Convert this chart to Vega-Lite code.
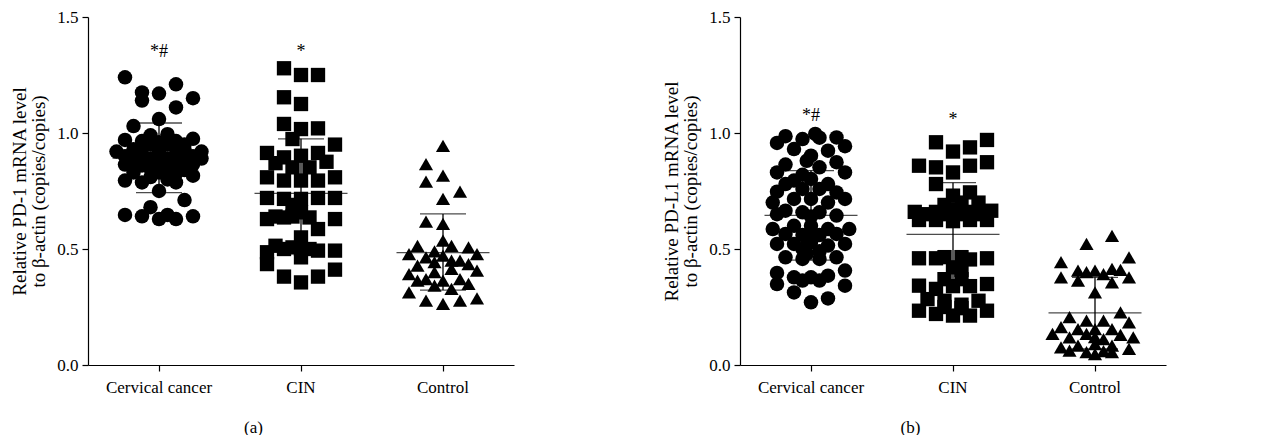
{
"$schema":"https://vega.github.io/schema/vega-lite/v6.json",
"padding":{"left":10,"top":8,"right":5,"bottom":0},
"background":"white",
"config":{"view":{"stroke":null},"axis":{"domainColor":"black","tickColor":"black","labelColor":"black","titleColor":"black","labelFont":"Liberation Serif","titleFont":"Liberation Serif","labelFontSize":17,"titleFontSize":19,"titleFontWeight":"normal","titleLineHeight":19,"grid":false,"tickSize":6,"domainWidth":1.2,"tickWidth":1.2}},
"datasets":{
"pts":[
{"p":"a","g":"Cervical cancer","c":-4,"v":1.24},{"p":"a","g":"Cervical cancer","c":2,"v":1.21},{"p":"a","g":"Cervical cancer","c":-2,"v":1.175},{"p":"a","g":"Cervical cancer","c":-2,"v":1.14},{"p":"a","g":"Cervical cancer","c":0,"v":1.17},{"p":"a","g":"Cervical cancer","c":4,"v":1.15},{"p":"a","g":"Cervical cancer","c":2,"v":1.11},{"p":"a","g":"Cervical cancer","c":0,"v":1.06},{"p":"a","g":"Cervical cancer","c":-3,"v":1.03},
{"p":"a","g":"Cervical cancer","c":-4,"v":0.97},{"p":"a","g":"Cervical cancer","c":-1,"v":0.99},{"p":"a","g":"Cervical cancer","c":1,"v":0.995},{"p":"a","g":"Cervical cancer","c":-2,"v":0.965},{"p":"a","g":"Cervical cancer","c":2,"v":0.965},{"p":"a","g":"Cervical cancer","c":4,"v":0.975},{"p":"a","g":"Cervical cancer","c":3,"v":0.95},{"p":"a","g":"Cervical cancer","c":-5,"v":0.92},{"p":"a","g":"Cervical cancer","c":5,"v":0.92},
{"p":"a","g":"Cervical cancer","c":-3,"v":0.93},{"p":"a","g":"Cervical cancer","c":-1,"v":0.95},{"p":"a","g":"Cervical cancer","c":0,"v":0.96},{"p":"a","g":"Cervical cancer","c":1,"v":0.95},{"p":"a","g":"Cervical cancer","c":3,"v":0.93},
{"p":"a","g":"Cervical cancer","c":-4,"v":0.9},{"p":"a","g":"Cervical cancer","c":-2,"v":0.91},{"p":"a","g":"Cervical cancer","c":0,"v":0.92},{"p":"a","g":"Cervical cancer","c":2,"v":0.91},{"p":"a","g":"Cervical cancer","c":4,"v":0.9},
{"p":"a","g":"Cervical cancer","c":-3,"v":0.88},{"p":"a","g":"Cervical cancer","c":-1,"v":0.89},{"p":"a","g":"Cervical cancer","c":1,"v":0.89},{"p":"a","g":"Cervical cancer","c":3,"v":0.88},{"p":"a","g":"Cervical cancer","c":5,"v":0.89},
{"p":"a","g":"Cervical cancer","c":-4,"v":0.864},{"p":"a","g":"Cervical cancer","c":-2,"v":0.86},{"p":"a","g":"Cervical cancer","c":0,"v":0.87},{"p":"a","g":"Cervical cancer","c":2,"v":0.86},{"p":"a","g":"Cervical cancer","c":4,"v":0.865},
{"p":"a","g":"Cervical cancer","c":-1,"v":0.845},{"p":"a","g":"Cervical cancer","c":1,"v":0.845},{"p":"a","g":"Cervical cancer","c":3,"v":0.84},
{"p":"a","g":"Cervical cancer","c":-3,"v":0.83},{"p":"a","g":"Cervical cancer","c":0,"v":0.83},{"p":"a","g":"Cervical cancer","c":2,"v":0.825},
{"p":"a","g":"Cervical cancer","c":-4,"v":0.795},{"p":"a","g":"Cervical cancer","c":-2,"v":0.787},{"p":"a","g":"Cervical cancer","c":-1,"v":0.81},{"p":"a","g":"Cervical cancer","c":1,"v":0.8},{"p":"a","g":"Cervical cancer","c":2,"v":0.787},{"p":"a","g":"Cervical cancer","c":4,"v":0.816},
{"p":"a","g":"Cervical cancer","c":0,"v":0.75},{"p":"a","g":"Cervical cancer","c":3,"v":0.711},{"p":"a","g":"Cervical cancer","c":-1,"v":0.68},
{"p":"a","g":"Cervical cancer","c":-4,"v":0.647},{"p":"a","g":"Cervical cancer","c":-2,"v":0.641},{"p":"a","g":"Cervical cancer","c":0,"v":0.629},{"p":"a","g":"Cervical cancer","c":1,"v":0.647},{"p":"a","g":"Cervical cancer","c":2,"v":0.629},{"p":"a","g":"Cervical cancer","c":4,"v":0.641},

{"p":"a","g":"CIN","c":-2,"v":1.279},{"p":"a","g":"CIN","c":0,"v":1.25},{"p":"a","g":"CIN","c":2,"v":1.25},{"p":"a","g":"CIN","c":-2,"v":1.154},{"p":"a","g":"CIN","c":0,"v":1.125},{"p":"a","g":"CIN","c":-2,"v":1.039},{"p":"a","g":"CIN","c":0,"v":1.017},{"p":"a","g":"CIN","c":2,"v":1.02},{"p":"a","g":"CIN","c":-1,"v":0.974},{"p":"a","g":"CIN","c":4,"v":0.95},
{"p":"a","g":"CIN","c":-4,"v":0.914},{"p":"a","g":"CIN","c":-2,"v":0.895},{"p":"a","g":"CIN","c":0,"v":0.902},{"p":"a","g":"CIN","c":2,"v":0.914},{"p":"a","g":"CIN","c":3,"v":0.876},{"p":"a","g":"CIN","c":-3,"v":0.87},{"p":"a","g":"CIN","c":-1,"v":0.852},{"p":"a","g":"CIN","c":1,"v":0.852},
{"p":"a","g":"CIN","c":-4,"v":0.809},{"p":"a","g":"CIN","c":-2,"v":0.795},{"p":"a","g":"CIN","c":0,"v":0.795},{"p":"a","g":"CIN","c":2,"v":0.795},{"p":"a","g":"CIN","c":4,"v":0.809},
{"p":"a","g":"CIN","c":-4,"v":0.72},{"p":"a","g":"CIN","c":-2,"v":0.716},{"p":"a","g":"CIN","c":-1,"v":0.69},{"p":"a","g":"CIN","c":0,"v":0.716},{"p":"a","g":"CIN","c":2,"v":0.72},{"p":"a","g":"CIN","c":4,"v":0.72},
{"p":"a","g":"CIN","c":-4,"v":0.629},{"p":"a","g":"CIN","c":-3,"v":0.64},{"p":"a","g":"CIN","c":-2,"v":0.636},{"p":"a","g":"CIN","c":-1,"v":0.64},{"p":"a","g":"CIN","c":0,"v":0.658},{"p":"a","g":"CIN","c":1,"v":0.636},{"p":"a","g":"CIN","c":4,"v":0.629},
{"p":"a","g":"CIN","c":2,"v":0.586},{"p":"a","g":"CIN","c":0,"v":0.55},{"p":"a","g":"CIN","c":-3,"v":0.514},{"p":"a","g":"CIN","c":-2,"v":0.5},{"p":"a","g":"CIN","c":-1,"v":0.507},{"p":"a","g":"CIN","c":0,"v":0.5},{"p":"a","g":"CIN","c":1,"v":0.5},{"p":"a","g":"CIN","c":2,"v":0.493},{"p":"a","g":"CIN","c":4,"v":0.493},{"p":"a","g":"CIN","c":-4,"v":0.486},{"p":"a","g":"CIN","c":0,"v":0.464},{"p":"a","g":"CIN","c":-4,"v":0.435},{"p":"a","g":"CIN","c":4,"v":0.411},{"p":"a","g":"CIN","c":-2,"v":0.381},{"p":"a","g":"CIN","c":0,"v":0.356},{"p":"a","g":"CIN","c":2,"v":0.381},

{"p":"a","g":"Control","c":0,"v":0.945},{"p":"a","g":"Control","c":-2,"v":0.866},{"p":"a","g":"Control","c":0,"v":0.816},{"p":"a","g":"Control","c":-2,"v":0.79},{"p":"a","g":"Control","c":2,"v":0.747},{"p":"a","g":"Control","c":0,"v":0.716},{"p":"a","g":"Control","c":-2,"v":0.618},{"p":"a","g":"Control","c":0,"v":0.608},
{"p":"a","g":"Control","c":-3,"v":0.514},{"p":"a","g":"Control","c":-4,"v":0.478},{"p":"a","g":"Control","c":0,"v":0.536},{"p":"a","g":"Control","c":1,"v":0.514},{"p":"a","g":"Control","c":3,"v":0.507},{"p":"a","g":"Control","c":4,"v":0.478},{"p":"a","g":"Control","c":-1,"v":0.49},
{"p":"a","g":"Control","c":-3,"v":0.428},{"p":"a","g":"Control","c":-2,"v":0.464},{"p":"a","g":"Control","c":-1,"v":0.443},{"p":"a","g":"Control","c":0,"v":0.471},{"p":"a","g":"Control","c":1,"v":0.45},{"p":"a","g":"Control","c":2,"v":0.45},{"p":"a","g":"Control","c":3,"v":0.435},
{"p":"a","g":"Control","c":-4,"v":0.392},{"p":"a","g":"Control","c":-2,"v":0.37},{"p":"a","g":"Control","c":-1,"v":0.4},{"p":"a","g":"Control","c":1,"v":0.414},{"p":"a","g":"Control","c":4,"v":0.407},{"p":"a","g":"Control","c":-3,"v":0.364},{"p":"a","g":"Control","c":0,"v":0.364},{"p":"a","g":"Control","c":2,"v":0.37},{"p":"a","g":"Control","c":3,"v":0.35},{"p":"a","g":"Control","c":-1,"v":0.342},{"p":"a","g":"Control","c":1,"v":0.328},
{"p":"a","g":"Control","c":-4,"v":0.313},{"p":"a","g":"Control","c":-2,"v":0.277},{"p":"a","g":"Control","c":0,"v":0.263},{"p":"a","g":"Control","c":2,"v":0.277},{"p":"a","g":"Control","c":4,"v":0.287},

{"p":"b","g":"Cervical cancer","c":-4,"v":0.957},{"p":"b","g":"Cervical cancer","c":-3,"v":0.986},{"p":"b","g":"Cervical cancer","c":-1,"v":0.974},{"p":"b","g":"Cervical cancer","c":0.5,"v":0.996},{"p":"b","g":"Cervical cancer","c":1,"v":0.98},{"p":"b","g":"Cervical cancer","c":3,"v":0.981},{"p":"b","g":"Cervical cancer","c":4,"v":0.943},{"p":"b","g":"Cervical cancer","c":-2,"v":0.931},{"p":"b","g":"Cervical cancer","c":2,"v":0.924},{"p":"b","g":"Cervical cancer","c":0,"v":0.902},{"p":"b","g":"Cervical cancer","c":-0.5,"v":0.88},
{"p":"b","g":"Cervical cancer","c":-3,"v":0.864},{"p":"b","g":"Cervical cancer","c":-4,"v":0.83},{"p":"b","g":"Cervical cancer","c":1,"v":0.852},{"p":"b","g":"Cervical cancer","c":3,"v":0.874},{"p":"b","g":"Cervical cancer","c":4,"v":0.83},{"p":"b","g":"Cervical cancer","c":-1,"v":0.82},
{"p":"b","g":"Cervical cancer","c":-2,"v":0.795},{"p":"b","g":"Cervical cancer","c":-3,"v":0.78},{"p":"b","g":"Cervical cancer","c":0,"v":0.802},{"p":"b","g":"Cervical cancer","c":-1,"v":0.759},{"p":"b","g":"Cervical cancer","c":1,"v":0.759},{"p":"b","g":"Cervical cancer","c":-4,"v":0.747},{"p":"b","g":"Cervical cancer","c":3,"v":0.744},{"p":"b","g":"Cervical cancer","c":2,"v":0.78},
{"p":"b","g":"Cervical cancer","c":4,"v":0.716},{"p":"b","g":"Cervical cancer","c":-2,"v":0.716},{"p":"b","g":"Cervical cancer","c":0,"v":0.716},{"p":"b","g":"Cervical cancer","c":-4.5,"v":0.7},{"p":"b","g":"Cervical cancer","c":2,"v":0.7},
{"p":"b","g":"Cervical cancer","c":-3,"v":0.665},{"p":"b","g":"Cervical cancer","c":-1,"v":0.658},{"p":"b","g":"Cervical cancer","c":1,"v":0.658},{"p":"b","g":"Cervical cancer","c":3,"v":0.644},{"p":"b","g":"Cervical cancer","c":-4,"v":0.65},{"p":"b","g":"Cervical cancer","c":0,"v":0.64},
{"p":"b","g":"Cervical cancer","c":-4.5,"v":0.586},{"p":"b","g":"Cervical cancer","c":4.5,"v":0.586},{"p":"b","g":"Cervical cancer","c":-2,"v":0.6},{"p":"b","g":"Cervical cancer","c":0,"v":0.6},{"p":"b","g":"Cervical cancer","c":2,"v":0.586},{"p":"b","g":"Cervical cancer","c":-3,"v":0.565},{"p":"b","g":"Cervical cancer","c":3,"v":0.565},{"p":"b","g":"Cervical cancer","c":-1,"v":0.56},{"p":"b","g":"Cervical cancer","c":1,"v":0.56},{"p":"b","g":"Cervical cancer","c":0,"v":0.57},
{"p":"b","g":"Cervical cancer","c":-4,"v":0.522},{"p":"b","g":"Cervical cancer","c":4,"v":0.522},{"p":"b","g":"Cervical cancer","c":-2,"v":0.522},{"p":"b","g":"Cervical cancer","c":0,"v":0.529},{"p":"b","g":"Cervical cancer","c":2,"v":0.515},{"p":"b","g":"Cervical cancer","c":-1,"v":0.5},{"p":"b","g":"Cervical cancer","c":1,"v":0.49},
{"p":"b","g":"Cervical cancer","c":-3,"v":0.464},{"p":"b","g":"Cervical cancer","c":-1,"v":0.457},{"p":"b","g":"Cervical cancer","c":1,"v":0.457},{"p":"b","g":"Cervical cancer","c":3,"v":0.464},{"p":"b","g":"Cervical cancer","c":-0.5,"v":0.48},
{"p":"b","g":"Cervical cancer","c":-4,"v":0.397},{"p":"b","g":"Cervical cancer","c":4,"v":0.407},{"p":"b","g":"Cervical cancer","c":-2,"v":0.378},{"p":"b","g":"Cervical cancer","c":-1,"v":0.364},{"p":"b","g":"Cervical cancer","c":0,"v":0.378},{"p":"b","g":"Cervical cancer","c":1,"v":0.364},{"p":"b","g":"Cervical cancer","c":2,"v":0.385},{"p":"b","g":"Cervical cancer","c":-4,"v":0.349},{"p":"b","g":"Cervical cancer","c":4,"v":0.342},{"p":"b","g":"Cervical cancer","c":-2,"v":0.313},{"p":"b","g":"Cervical cancer","c":2,"v":0.287},{"p":"b","g":"Cervical cancer","c":0,"v":0.27},

{"p":"b","g":"CIN","c":-2,"v":0.96},{"p":"b","g":"CIN","c":4,"v":0.97},{"p":"b","g":"CIN","c":0,"v":0.92},{"p":"b","g":"CIN","c":2,"v":0.938},{"p":"b","g":"CIN","c":-4,"v":0.859},{"p":"b","g":"CIN","c":-2,"v":0.852},{"p":"b","g":"CIN","c":2,"v":0.859},{"p":"b","g":"CIN","c":4,"v":0.874},{"p":"b","g":"CIN","c":0,"v":0.83},
{"p":"b","g":"CIN","c":-2,"v":0.78},{"p":"b","g":"CIN","c":0,"v":0.73},{"p":"b","g":"CIN","c":2,"v":0.744},{"p":"b","g":"CIN","c":3,"v":0.7},{"p":"b","g":"CIN","c":1,"v":0.7},{"p":"b","g":"CIN","c":-1,"v":0.69},
{"p":"b","g":"CIN","c":-4.5,"v":0.66},{"p":"b","g":"CIN","c":-3,"v":0.65},{"p":"b","g":"CIN","c":-2,"v":0.66},{"p":"b","g":"CIN","c":-1,"v":0.65},{"p":"b","g":"CIN","c":0,"v":0.67},{"p":"b","g":"CIN","c":1,"v":0.65},{"p":"b","g":"CIN","c":2,"v":0.66},{"p":"b","g":"CIN","c":3,"v":0.65},{"p":"b","g":"CIN","c":4.5,"v":0.665},
{"p":"b","g":"CIN","c":-4,"v":0.625},{"p":"b","g":"CIN","c":-2,"v":0.625},{"p":"b","g":"CIN","c":0,"v":0.62},{"p":"b","g":"CIN","c":2,"v":0.625},{"p":"b","g":"CIN","c":4,"v":0.625},
{"p":"b","g":"CIN","c":-4,"v":0.46},{"p":"b","g":"CIN","c":-2,"v":0.46},{"p":"b","g":"CIN","c":-1,"v":0.465},{"p":"b","g":"CIN","c":1,"v":0.465},{"p":"b","g":"CIN","c":2,"v":0.455},{"p":"b","g":"CIN","c":4,"v":0.46},{"p":"b","g":"CIN","c":0,"v":0.421},{"p":"b","g":"CIN","c":1,"v":0.41},
{"p":"b","g":"CIN","c":-1,"v":0.37},{"p":"b","g":"CIN","c":1,"v":0.37},{"p":"b","g":"CIN","c":-4,"v":0.342},{"p":"b","g":"CIN","c":4,"v":0.349},{"p":"b","g":"CIN","c":2,"v":0.34},{"p":"b","g":"CIN","c":-2,"v":0.328},{"p":"b","g":"CIN","c":0,"v":0.34},
{"p":"b","g":"CIN","c":-3,"v":0.284},{"p":"b","g":"CIN","c":-1,"v":0.277},{"p":"b","g":"CIN","c":3,"v":0.277},{"p":"b","g":"CIN","c":1,"v":0.26},
{"p":"b","g":"CIN","c":-4,"v":0.234},{"p":"b","g":"CIN","c":4,"v":0.234},{"p":"b","g":"CIN","c":-2,"v":0.22},{"p":"b","g":"CIN","c":0,"v":0.213},{"p":"b","g":"CIN","c":2,"v":0.213},{"p":"b","g":"CIN","c":1,"v":0.245},{"p":"b","g":"CIN","c":-1,"v":0.25},

{"p":"b","g":"Control","c":2,"v":0.557},{"p":"b","g":"Control","c":-1,"v":0.522},{"p":"b","g":"Control","c":4,"v":0.464},{"p":"b","g":"Control","c":-4,"v":0.443},{"p":"b","g":"Control","c":-2,"v":0.407},{"p":"b","g":"Control","c":0,"v":0.407},{"p":"b","g":"Control","c":2,"v":0.414},{"p":"b","g":"Control","c":1,"v":0.392},{"p":"b","g":"Control","c":-1,"v":0.4},{"p":"b","g":"Control","c":3,"v":0.41},
{"p":"b","g":"Control","c":-4,"v":0.378},{"p":"b","g":"Control","c":4,"v":0.378},{"p":"b","g":"Control","c":-2,"v":0.364},{"p":"b","g":"Control","c":2,"v":0.356},{"p":"b","g":"Control","c":0,"v":0.313},
{"p":"b","g":"Control","c":3,"v":0.227},{"p":"b","g":"Control","c":-3,"v":0.206},{"p":"b","g":"Control","c":-1,"v":0.191},{"p":"b","g":"Control","c":1,"v":0.191},{"p":"b","g":"Control","c":4,"v":0.184},{"p":"b","g":"Control","c":-4,"v":0.163},{"p":"b","g":"Control","c":-2,"v":0.155},{"p":"b","g":"Control","c":0,"v":0.155},{"p":"b","g":"Control","c":2,"v":0.155},{"p":"b","g":"Control","c":3,"v":0.13},
{"p":"b","g":"Control","c":-5,"v":0.134},{"p":"b","g":"Control","c":-3,"v":0.119},{"p":"b","g":"Control","c":-1,"v":0.134},{"p":"b","g":"Control","c":0,"v":0.12},{"p":"b","g":"Control","c":1,"v":0.112},{"p":"b","g":"Control","c":4.5,"v":0.119},
{"p":"b","g":"Control","c":-4,"v":0.076},{"p":"b","g":"Control","c":-2,"v":0.083},{"p":"b","g":"Control","c":0,"v":0.09},{"p":"b","g":"Control","c":2,"v":0.083},{"p":"b","g":"Control","c":4,"v":0.069},{"p":"b","g":"Control","c":-3,"v":0.062},{"p":"b","g":"Control","c":-1,"v":0.055},{"p":"b","g":"Control","c":0,"v":0.047},{"p":"b","g":"Control","c":1,"v":0.06},{"p":"b","g":"Control","c":2,"v":0.055}
],
"stats":[
{"p":"a","g":"Cervical cancer","mean":0.892,"lo":0.743,"hi":1.043},
{"p":"a","g":"CIN","mean":0.74,"lo":0.506,"hi":0.975},
{"p":"a","g":"Control","mean":0.484,"lo":0.323,"hi":0.651},
{"p":"b","g":"Cervical cancer","mean":0.645,"lo":0.452,"hi":0.838},
{"p":"b","g":"CIN","mean":0.563,"lo":0.346,"hi":0.786},
{"p":"b","g":"Control","mean":0.225,"lo":0.069,"hi":0.378}
],
"ann":[
{"p":"a","g":"Cervical cancer","t":"*#","y":1.35},
{"p":"a","g":"CIN","t":"*","y":1.35},
{"p":"b","g":"Cervical cancer","t":"*#","y":1.075},
{"p":"b","g":"CIN","t":"*","y":1.055}
]
},
"spacing":148,
"hconcat":[
{
"width":426,"height":348,
"layer":[
{"data":{"name":"pts"},"transform":[{"filter":"datum.p==='a'"}],"mark":{"type":"point","filled":true,"opacity":1,"color":"black","strokeWidth":0},
"encoding":{
"x":{"field":"g","type":"nominal","sort":["Cervical cancer","CIN","Control"],"scale":{"type":"band","domain":["Cervical cancer","CIN","Control"],"paddingInner":0,"paddingOuter":0},"axis":{"labelAngle":0,"title":"(a)","titleX":165,"titleY":62,"titleBaseline":"middle","titleAlign":"center","titleFontSize":17,"labelPadding":8}},
"xOffset":{"field":"c","type":"quantitative","scale":{"domain":[-4,4],"range":[37,105]}},
"y":{"field":"v","type":"quantitative","scale":{"domain":[0,1.5],"nice":false},"axis":{"values":[0,0.5,1,1.5],"format":".1f","title":["Relative PD-1 mRNA level","to β-actin (copies/copies)"],"titlePadding":8,"labelPadding":4}},
"shape":{"field":"g","type":"nominal","scale":{"domain":["Cervical cancer","CIN","Control"],"range":["circle","square","triangle-up"]},"legend":null},
"size":{"field":"g","type":"nominal","scale":{"domain":["Cervical cancer","CIN","Control"],"range":[210,200,235]},"legend":null}
}},
{"data":{"name":"stats"},"transform":[{"filter":"datum.p==='a'"}],"mark":{"type":"tick","color":"black","size":93,"thickness":1.3},
"encoding":{"x":{"field":"g","type":"nominal"},"y":{"field":"mean","type":"quantitative"}}},
{"data":{"name":"stats"},"transform":[{"filter":"datum.p==='a'"}],"mark":{"type":"tick","color":"black","size":46,"thickness":1.3},
"encoding":{"x":{"field":"g","type":"nominal"},"y":{"field":"lo","type":"quantitative"}}},
{"data":{"name":"stats"},"transform":[{"filter":"datum.p==='a'"}],"mark":{"type":"tick","color":"black","size":46,"thickness":1.3},
"encoding":{"x":{"field":"g","type":"nominal"},"y":{"field":"hi","type":"quantitative"}}},
{"data":{"name":"stats"},"transform":[{"filter":"datum.p==='a'"}],"mark":{"type":"rule","color":"black","strokeWidth":1.3},
"encoding":{"x":{"field":"g","type":"nominal"},"y":{"field":"lo","type":"quantitative"},"y2":{"field":"hi"}}},
{"data":{"name":"ann"},"transform":[{"filter":"datum.p==='a'"}],"mark":{"type":"text","font":"Liberation Serif","fontSize":18,"color":"black","baseline":"middle"},
"encoding":{"x":{"field":"g","type":"nominal"},"y":{"field":"y","type":"quantitative"},"text":{"field":"t"}}}
]
},
{
"width":426,"height":348,
"layer":[
{"data":{"name":"pts"},"transform":[{"filter":"datum.p==='b'"}],"mark":{"type":"point","filled":true,"opacity":1,"color":"black","strokeWidth":0},
"encoding":{
"x":{"field":"g","type":"nominal","sort":["Cervical cancer","CIN","Control"],"scale":{"type":"band","domain":["Cervical cancer","CIN","Control"],"paddingInner":0,"paddingOuter":0},"axis":{"labelAngle":0,"title":"(b)","titleX":170,"titleY":62,"titleBaseline":"middle","titleAlign":"center","titleFontSize":17,"labelPadding":8}},
"xOffset":{"field":"c","type":"quantitative","scale":{"domain":[-4,4],"range":[37,105]}},
"y":{"field":"v","type":"quantitative","scale":{"domain":[0,1.5],"nice":false},"axis":{"values":[0,0.5,1,1.5],"format":".1f","title":["Relative PD-L1 mRNA level","to β-actin (copies/copies)"],"titlePadding":8,"labelPadding":4}},
"shape":{"field":"g","type":"nominal","scale":{"domain":["Cervical cancer","CIN","Control"],"range":["circle","square","triangle-up"]},"legend":null},
"size":{"field":"g","type":"nominal","scale":{"domain":["Cervical cancer","CIN","Control"],"range":[210,200,235]},"legend":null}
}},
{"data":{"name":"stats"},"transform":[{"filter":"datum.p==='b'"}],"mark":{"type":"tick","color":"black","size":93,"thickness":1.3},
"encoding":{"x":{"field":"g","type":"nominal"},"y":{"field":"mean","type":"quantitative"}}},
{"data":{"name":"stats"},"transform":[{"filter":"datum.p==='b'"}],"mark":{"type":"tick","color":"black","size":46,"thickness":1.3},
"encoding":{"x":{"field":"g","type":"nominal"},"y":{"field":"lo","type":"quantitative"}}},
{"data":{"name":"stats"},"transform":[{"filter":"datum.p==='b'"}],"mark":{"type":"tick","color":"black","size":46,"thickness":1.3},
"encoding":{"x":{"field":"g","type":"nominal"},"y":{"field":"hi","type":"quantitative"}}},
{"data":{"name":"stats"},"transform":[{"filter":"datum.p==='b'"}],"mark":{"type":"rule","color":"black","strokeWidth":1.3},
"encoding":{"x":{"field":"g","type":"nominal"},"y":{"field":"lo","type":"quantitative"},"y2":{"field":"hi"}}},
{"data":{"name":"ann"},"transform":[{"filter":"datum.p==='b'"}],"mark":{"type":"text","font":"Liberation Serif","fontSize":18,"color":"black","baseline":"middle"},
"encoding":{"x":{"field":"g","type":"nominal"},"y":{"field":"y","type":"quantitative"},"text":{"field":"t"}}}
]
}
]
}
